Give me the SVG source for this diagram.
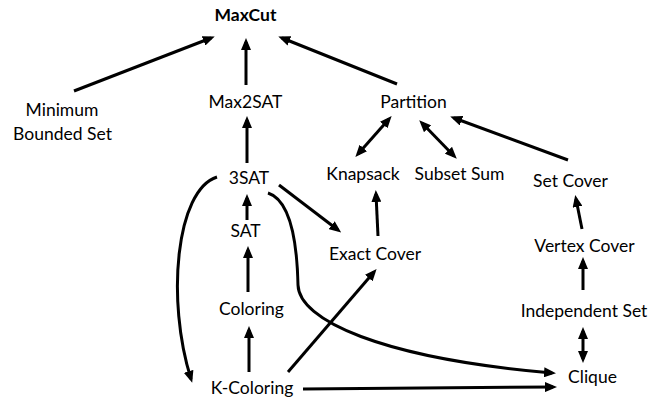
<svg xmlns="http://www.w3.org/2000/svg" width="672" height="397" viewBox="0 0 672 397">
<defs>
<marker id="ah" viewBox="0 0 12 10" refX="8" refY="5" markerWidth="12" markerHeight="10" markerUnits="userSpaceOnUse" orient="auto-start-reverse">
<path d="M0,0 L12,5 L0,10 z" fill="#000"/>
</marker>
<style>
text{font-family:Lato,"Liberation Sans",sans-serif;font-size:17.5px;fill:#000;text-anchor:middle}
.b{font-weight:bold}
.e{fill:none;stroke:#000;stroke-width:3}
.a{marker-end:url(#ah)}
.d{marker-start:url(#ah);marker-end:url(#ah)}
</style>
</defs>
<rect width="672" height="397" fill="#fff"/>
<g id="connectors">
<path class="e a" d="M74,91 L211,38"/>
<path class="e a" d="M246,85 L246,42"/>
<path class="e a" d="M397,84 L282,38"/>
<path class="e a" d="M247,163 L247,120"/>
<path class="e d" d="M389,119 L358,154"/>
<path class="e d" d="M422,123 L454,156"/>
<path class="e a" d="M568,160 L454,118"/>
<path class="e a" d="M279,185 L338,230"/>
<path class="e a" d="M378,236 L376,194"/>
<path class="e a" d="M247,220 L247,198"/>
<path class="e a" d="M248,292 L248,250"/>
<path class="e a" d="M249,372 L249,330"/>
<path class="e a" d="M288,372 L374,272"/>
<path class="e a" d="M217,177 C176,190 166,300 191,379"/>
<path class="e a" d="M268,193 C290,200 297,240 298,285 C299,320 380,358 552,373"/>
<path class="e a" d="M303,389 L553,387"/>
<path class="e d" d="M583,331 L583,359"/>
<path class="e a" d="M583,290 L583,261"/>
<path class="e a" d="M582,229 L576,199"/>
</g>
<g id="n-maxcut"><text class="b" x="245.5" y="21">MaxCut</text></g>
<g id="n-mbs"><text x="62" y="116">Minimum</text><text x="62.5" y="140">Bounded Set</text></g>
<g id="n-max2sat"><text x="245.5" y="108">Max2SAT</text></g>
<g id="n-partition"><text x="413.5" y="108">Partition</text></g>
<g id="n-3sat"><text x="249" y="184">3SAT</text></g>
<g id="n-knapsack"><text x="363" y="180">Knapsack</text></g>
<g id="n-subsetsum"><text x="459.5" y="180">Subset Sum</text></g>
<g id="n-setcover"><text x="570.5" y="187">Set Cover</text></g>
<g id="n-sat"><text x="245.5" y="237">SAT</text></g>
<g id="n-exactcover"><text x="375" y="260">Exact Cover</text></g>
<g id="n-vertexcover"><text x="584.5" y="252">Vertex Cover</text></g>
<g id="n-coloring"><text x="251.5" y="315">Coloring</text></g>
<g id="n-indset"><text x="584" y="317">Independent Set</text></g>
<g id="n-kcoloring"><text x="252" y="394">K-Coloring</text></g>
<g id="n-clique"><text x="592.5" y="383">Clique</text></g>
</svg>
